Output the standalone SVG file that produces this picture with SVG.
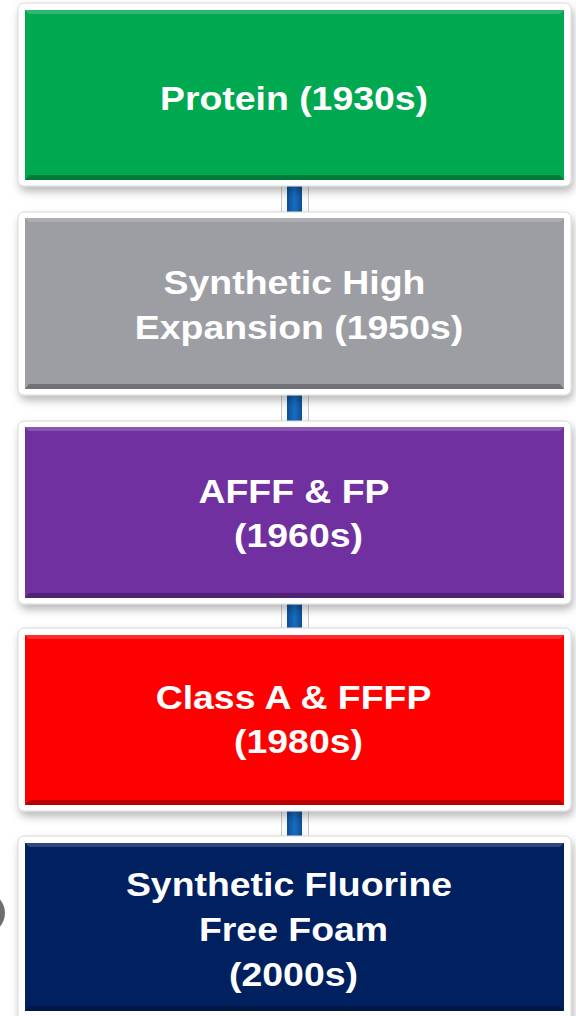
<svg xmlns="http://www.w3.org/2000/svg" width="576" height="1016" viewBox="0 0 576 1016">
<defs>
<filter id="sh" x="-5%" y="-10%" width="115%" height="130%">
<feDropShadow dx="2" dy="5" stdDeviation="4" flood-color="#000" flood-opacity="0.28"/>
</filter>
<linearGradient id="blue" x1="0" x2="1" y1="0" y2="0">
<stop offset="0" stop-color="#0a4f94"/>
<stop offset="0.5" stop-color="#1a6cc0"/>
<stop offset="1" stop-color="#0a4f94"/>
</linearGradient>
<style>
.frame{fill:#fff;stroke:#d8d8d8;stroke-width:1;filter:url(#sh)}
.t{font-family:"Liberation Sans",Arial,sans-serif;font-weight:bold;font-size:34px;fill:#fff;text-anchor:middle}
.hi{fill:#fff;opacity:0.18}
.lo{fill:#000;opacity:0.28}
.conn-bg{fill:#fafafa;stroke:#c8c8c8;stroke-width:1}
</style>
</defs>
<rect width="576" height="1016" fill="#fff"/>
<circle cx="-16" cy="913" r="21" fill="#6e6e6e"/>
<g id="connectors">
<rect class="conn-bg" x="281.5" y="180" width="27" height="40"/><rect x="287" y="180" width="15" height="40" fill="url(#blue)"/>
<rect class="conn-bg" x="281.5" y="389" width="27" height="40"/><rect x="287" y="389" width="15" height="40" fill="url(#blue)"/>
<rect class="conn-bg" x="281.5" y="598" width="27" height="38"/><rect x="287" y="598" width="15" height="38" fill="url(#blue)"/>
<rect class="conn-bg" x="281.5" y="805" width="27" height="40"/><rect x="287" y="805" width="15" height="40" fill="url(#blue)"/>
</g>
<g id="node1">
<rect class="frame" x="18" y="3" width="553" height="183" rx="6"/>
<rect x="25" y="10" width="539" height="170" fill="#00a84f"/>
<polygon class="hi" points="25,10 564,10 560,14 29,14"/>
<polygon class="lo" points="25,180 564,180 560,175 29,175"/>
<text class="t" transform="matrix(1.1 0 0 1 294 110)">Protein (1930s)</text>
</g>
<g id="node2">
<rect class="frame" x="18" y="212" width="553" height="183" rx="6"/>
<rect x="25" y="218" width="539" height="171" fill="#9d9ea3"/>
<polygon class="hi" points="25,218 564,218 560,222 29,222"/>
<polygon class="lo" points="25,389 564,389 560,384 29,384"/>
<text class="t" transform="matrix(1.1 0 0 1 294.5 294)">Synthetic High</text>
<text class="t" transform="matrix(1.1 0 0 1 299 339)">Expansion (1950s)</text>
</g>
<g id="node3">
<rect class="frame" x="18" y="421" width="553" height="183" rx="6"/>
<rect x="25" y="427" width="539" height="171" fill="#7030a0"/>
<polygon class="hi" points="25,427 564,427 560,431 29,431"/>
<polygon class="lo" points="25,598 564,598 560,593 29,593"/>
<text class="t" transform="matrix(1.1 0 0 1 294 503)">AFFF &amp; FP</text>
<text class="t" transform="matrix(1.1 0 0 1 298.5 547)">(1960s)</text>
</g>
<g id="node4">
<rect class="frame" x="18" y="628" width="553" height="183" rx="6"/>
<rect x="25" y="635" width="539" height="170" fill="#ff0000"/>
<polygon class="hi" points="25,635 564,635 560,639 29,639"/>
<polygon class="lo" points="25,805 564,805 560,800 29,800"/>
<text class="t" transform="matrix(1.1 0 0 1 293.5 709)">Class A &amp; FFFP</text>
<text class="t" transform="matrix(1.1 0 0 1 298.5 753)">(1980s)</text>
</g>
<g id="node5">
<rect class="frame" x="18" y="836" width="553" height="190" rx="6"/>
<rect x="25" y="843" width="539" height="168" fill="#002060"/>
<polygon class="hi" points="25,843 564,843 560,847 29,847"/>
<polygon class="lo" points="25,1011 564,1011 560,1006 29,1006"/>
<text class="t" transform="matrix(1.1 0 0 1 289 896)">Synthetic Fluorine</text>
<text class="t" transform="matrix(1.1 0 0 1 293.5 941)">Free Foam</text>
<text class="t" transform="matrix(1.1 0 0 1 293.5 986)">(2000s)</text>
</g>
</svg>
